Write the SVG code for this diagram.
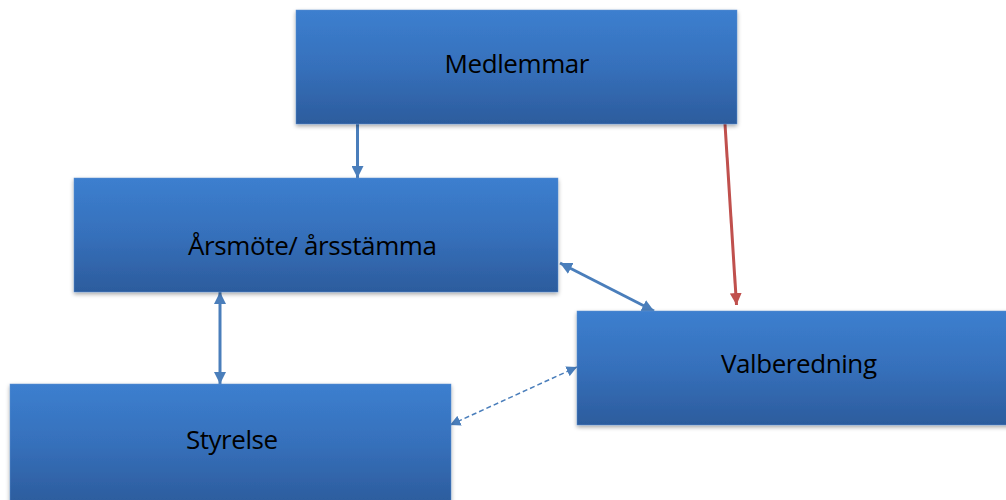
<svg xmlns="http://www.w3.org/2000/svg" width="1006" height="500" viewBox="0 0 1006 500">
<defs>
<linearGradient id="g" x1="0" y1="0" x2="0" y2="1">
<stop offset="0" stop-color="#3c7fcf"/>
<stop offset="0.5" stop-color="#3670bb"/>
<stop offset="1" stop-color="#2c5c9d"/>
</linearGradient>
<filter id="sh" x="-5%" y="-10%" width="110%" height="125%">
<feGaussianBlur in="SourceAlpha" stdDeviation="2"/>
<feOffset dx="0" dy="2"/>
<feComponentTransfer><feFuncA type="linear" slope="0.35"/></feComponentTransfer>
<feMerge><feMergeNode/><feMergeNode in="SourceGraphic"/></feMerge>
</filter>
<marker id="ab" viewBox="0 0 10 10" refX="10" refY="5" markerWidth="4" markerHeight="4" orient="auto-start-reverse" markerUnits="strokeWidth">
<path d="M0,0 L10,5 L0,10 z" fill="#4a7ebb"/>
</marker>
<marker id="ar" viewBox="0 0 10 10" refX="10" refY="5" markerWidth="4" markerHeight="4" orient="auto" markerUnits="strokeWidth">
<path d="M0,0 L10,5 L0,10 z" fill="#c0504d"/>
</marker>
<marker id="ad" viewBox="0 0 10 10" refX="10" refY="5" markerWidth="7" markerHeight="7" orient="auto-start-reverse" markerUnits="strokeWidth">
<path d="M0,0 L10,5 L0,10 z" fill="#4a7ebb"/>
</marker>
</defs>
<style>
.box{fill:url(#g);stroke:#5b8fd0;stroke-width:0.5;filter:url(#sh)}
.t{font-family:"Open Sans","Liberation Sans",sans-serif;font-size:26px;fill:#000;text-anchor:middle}
.c{fill:none;stroke:#4a7ebb;stroke-width:3}
</style>
<g id="connectors">
<line class="c" x1="357.5" y1="124" x2="357.5" y2="178" marker-end="url(#ab)"/>
<line x1="725" y1="124" x2="736.5" y2="305" stroke="#c0504d" stroke-width="3" marker-end="url(#ar)"/>
<line class="c" x1="560" y1="263" x2="654" y2="311" marker-start="url(#ab)" marker-end="url(#ab)"/>
<line class="c" x1="220" y1="292" x2="220" y2="384" marker-start="url(#ab)" marker-end="url(#ab)"/>
<line x1="450" y1="425" x2="577" y2="367" stroke="#4a7ebb" stroke-width="1.5" stroke-dasharray="5,3" marker-start="url(#ad)" marker-end="url(#ad)"/>
</g>
<g id="medlemmar">
<rect class="box" x="296" y="10" width="441" height="114"/>
<text class="t" x="517" y="73" textLength="145">Medlemmar</text>
</g>
<g id="arsmote">
<rect class="box" x="74" y="178" width="484" height="114"/>
<text class="t" x="312.5" y="255" textLength="249">Årsmöte/ årsstämma</text>
</g>
<g id="valberedning">
<rect class="box" x="577" y="311" width="441" height="114"/>
<text class="t" x="799" y="373" textLength="156">Valberedning</text>
</g>
<g id="styrelse">
<rect class="box" x="10" y="384" width="441" height="120"/>
<text class="t" x="232" y="449" textLength="92">Styrelse</text>
</g>
</svg>
